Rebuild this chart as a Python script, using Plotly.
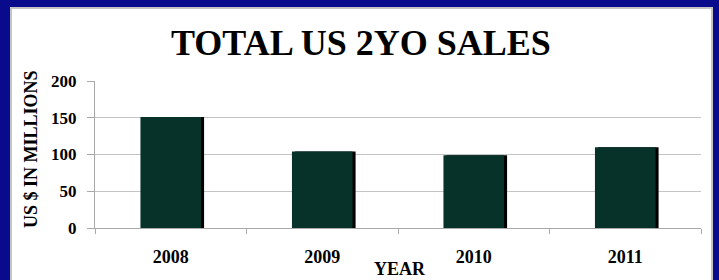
import plotly.graph_objects as go

years = ["2008", "2009", "2010", "2011"]
sales = [151, 104, 99, 110]
y_ticks = [0, 50, 100, 150, 200]

W, H = 719, 280
ML, MR, MT, MB = 95, 18, 81, 52
PW, PH = W - ML - MR, H - MT - MB

def px_x(p):
    return (p - ML) / PW

def px_y(p):
    return (H - MB - p) / PH

serif = "Liberation Serif, Times New Roman, serif"
bar_color = "#07322A"
blue = "#0A0A8C"

fig = go.Figure()
fig.add_trace(go.Bar(x=years, y=sales, width=0.4, offset=-0.18,
                     marker=dict(color="#000000", line=dict(width=0)),
                     hoverinfo="skip", showlegend=False))
fig.add_trace(go.Bar(x=years, y=sales, width=0.4, offset=-0.2,
                     marker=dict(color=bar_color, line=dict(width=0)),
                     showlegend=False))

fig.update_layout(
    width=W, height=H,
    margin=dict(l=ML, r=MR, t=MT, b=MB, pad=0),
    paper_bgcolor=blue, plot_bgcolor="white",
    barmode="overlay",
    font=dict(family=serif, color="black"),
    shapes=[dict(type="rect", xref="paper", yref="paper",
                 x0=px_x(11), x1=px_x(712), y0=px_y(290), y1=px_y(8),
                 fillcolor="white", line=dict(color="#c4c4c4", width=2),
                 layer="below")],
    annotations=[
        dict(text="<b>TOTAL US 2YO SALES</b>", xref="paper", yref="paper",
             x=px_x(361), y=px_y(43), xanchor="center", yanchor="middle",
             showarrow=False, font=dict(size=36, family=serif, color="black")),
        dict(text="<b>US $ IN MILLIONS</b>", xref="paper", yref="paper",
             x=px_x(31), y=px_y(149), xanchor="center", yanchor="middle",
             textangle=-90, showarrow=False,
             font=dict(size=18, family=serif, color="black")),
        dict(text="<b>YEAR</b>", xref="paper", yref="paper",
             x=px_x(400), y=px_y(269), xanchor="center", yanchor="middle",
             showarrow=False, font=dict(size=18, family=serif, color="black")),
    ],
)
fig.update_xaxes(type="category", showgrid=False, showline=True, linecolor="#a8a8a8",
                 linewidth=1, ticks="outside", tickson="boundaries", ticklen=5,
                 tickcolor="#a8a8a8",
                 tickfont=dict(size=18, family=serif, color="black", weight="bold"),
                 ticklabelstandoff=12, fixedrange=True)
fig.update_yaxes(range=[0, 200], tickvals=y_ticks, showgrid=True, gridcolor="#c4c4c4",
                 gridwidth=1, showline=True, linecolor="#a8a8a8", linewidth=1,
                 ticks="outside", ticklen=7, tickcolor="#a8a8a8", zeroline=False,
                 tickfont=dict(size=17, family=serif, color="black", weight="bold"),
                 ticklabelstandoff=7, fixedrange=True)

fig.write_html(
    "out.html",
    config={"displayModeBar": False, "staticPlot": True},
    post_script="document.documentElement.style.margin='0';"
                "document.body.style.margin='0';"
                "document.body.style.background='" + blue + "';"
                "document.documentElement.style.background='" + blue + "';",
)
